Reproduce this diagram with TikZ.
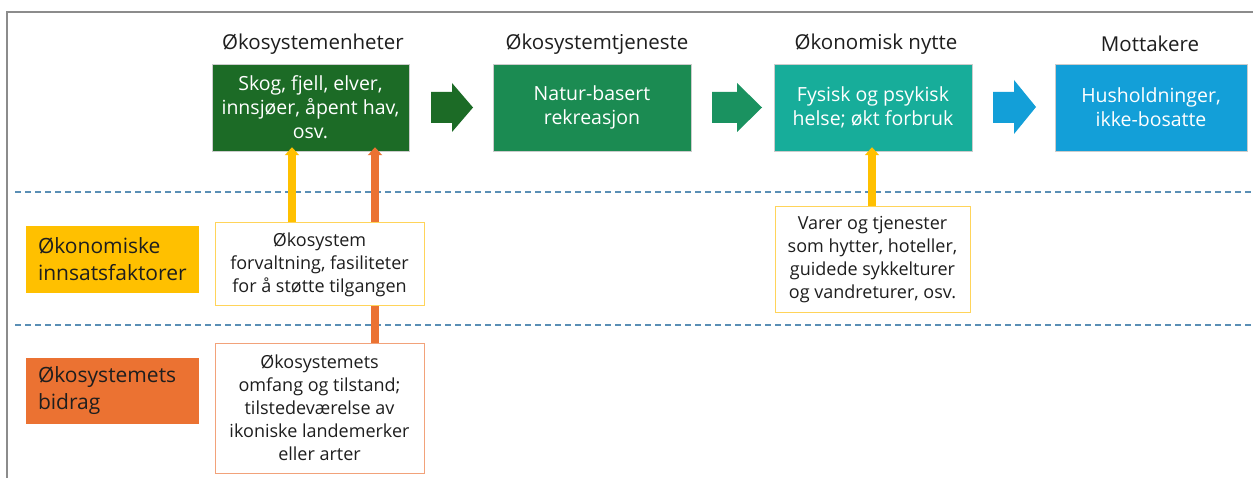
\documentclass[tikz,border=0pt]{standalone}
\usepackage{fontspec}
\setmainfont{Open Sans}
\usetikzlibrary{arrows.meta}
\definecolor{frameGray}{HTML}{8C8C8C}
\definecolor{unitGreen}{HTML}{1C6B26}
\definecolor{serviceGreen}{HTML}{1B8B52}
\definecolor{benefitTeal}{HTML}{17AD9A}
\definecolor{userBlue}{HTML}{139FD8}
\definecolor{inputYellow}{HTML}{FFC000}
\definecolor{contribOrange}{HTML}{EB7232}
\definecolor{dashBlue}{HTML}{5A8FB5}
\definecolor{paleYellow}{HTML}{FFD45A}
\definecolor{paleOrange}{HTML}{F2A27A}
\definecolor{inkGray}{HTML}{1E1E1E}
\tikzset{
  x=1pt, y=-1pt,
  heading/.style={text=inkGray, font=\fontsize{20.5}{24}\selectfont, inner sep=0pt},
  flowbox/.style={rectangle, minimum width=197pt, minimum height=87pt, text=white,
    align=center, font=\fontsize{19.5}{24}\selectfont, inner sep=0pt, draw=white!80!black, line width=0.4pt},
  rowlabel/.style={rectangle, minimum width=173pt, text=inkGray, align=left,
    font=\fontsize{21}{27}\selectfont, inner sep=0pt, text width=149pt},
  notebox/.style={rectangle, fill=white, text=inkGray, align=center,
    font=\fontsize{18}{23}\selectfont, inner sep=0pt, line width=1pt},
  riser/.style={line width=8pt, -{Triangle[width=14pt, length=8pt]}},
  divider/.style={dashed, dash pattern=on 6pt off 4pt, draw=dashBlue, line width=1.1pt}
}
\begin{document}
\begin{tikzpicture}
\useasboundingbox (0,0) rectangle (1253,478);
\fill[white] (0,0) rectangle (1253,478);

% frame
\draw[frameGray, line width=2pt] (7,478) -- (7,12) -- (1253,12);

% row dividers
\coordinate (d1l) at (15,192);
\coordinate (d1r) at (1253,192);
\coordinate (d2l) at (15,325);
\coordinate (d2r) at (1253,325);
\draw[divider] (d1l) -- (d1r);
\draw[divider] (d2l) -- (d2r);

% column headings
\node[heading] (h1) at (313,44) {Økosystemenheter};
\node[heading] (h2) at (597,44) {Økosystemtjeneste};
\node[heading] (h3) at (876,44) {Økonomisk nytte};
\node[heading] (h4) at (1150,44) {Mottakere};

% main chain
\node[flowbox, fill=unitGreen] (units) at (310.5,107.5) {Skog, fjell, elver,\\innsjøer, åpent hav,\\osv.};
\node[flowbox, fill=serviceGreen, minimum width=198pt] (service) at (592,107.5) {Natur-basert\\rekreasjon};
\node[flowbox, fill=benefitTeal, minimum width=198pt] (benefit) at (873,107.5) {Fysisk og psykisk\\helse; økt forbruk};
\node[flowbox, fill=userBlue, minimum width=192pt] (users) at (1151,107.5) {Husholdninger,\\ikke-bosatte};

% block arrows between the chain boxes
\fill[unitGreen] (431,92) -- (452,92) -- (452,83) -- (473,107.5) -- (452,132) -- (452,123) -- (431,123) -- cycle;
\fill[serviceGreen!80!benefitTeal] (712,92) -- (737,92) -- (737,83) -- (762,107.5) -- (737,132) -- (737,123) -- (712,123) -- cycle;
\fill[userBlue] (993,92) -- (1014,92) -- (1014,80) -- (1036,107) -- (1014,134) -- (1014,123) -- (993,123) -- cycle;

% row labels
\node[rowlabel, fill=inputYellow, minimum height=67pt] (inputs) at (112.5,259.5) {Økonomiske\\innsatsfaktorer};
\node[rowlabel, fill=contribOrange, minimum height=66pt] (contrib) at (112.5,391) {Økosystemets\\bidrag};

% notes
\node[notebox, draw=paleOrange, minimum width=209pt, minimum height=130pt] (state) at (319.5,408) {Økosystemets\\omfang og tilstand;\\tilstedeværelse av\\ikoniske landemerker\\eller arter};
\draw[riser, contribOrange] (state.north -| 375,0) -- ([yshift=4pt]units.south -| 375,0);

\node[notebox, draw=paleYellow, minimum width=209pt, minimum height=83pt] (mgmt) at (319.5,264.5) {Økosystem\\forvaltning, fasiliteter\\for å støtte tilgangen};
\draw[riser, inputYellow] (mgmt.north -| 292,0) -- ([yshift=4pt]units.south -| 292,0);

\node[notebox, draw=paleYellow, minimum width=195pt, minimum height=106pt] (goods) at (872.5,260) {Varer og tjenester\\som hytter, hoteller,\\guidede sykkelturer\\og vandreturer, osv.};
\draw[riser, inputYellow] (goods.north -| 872,0) -- ([yshift=4pt]benefit.south -| 872,0);
\end{tikzpicture}
\end{document}
